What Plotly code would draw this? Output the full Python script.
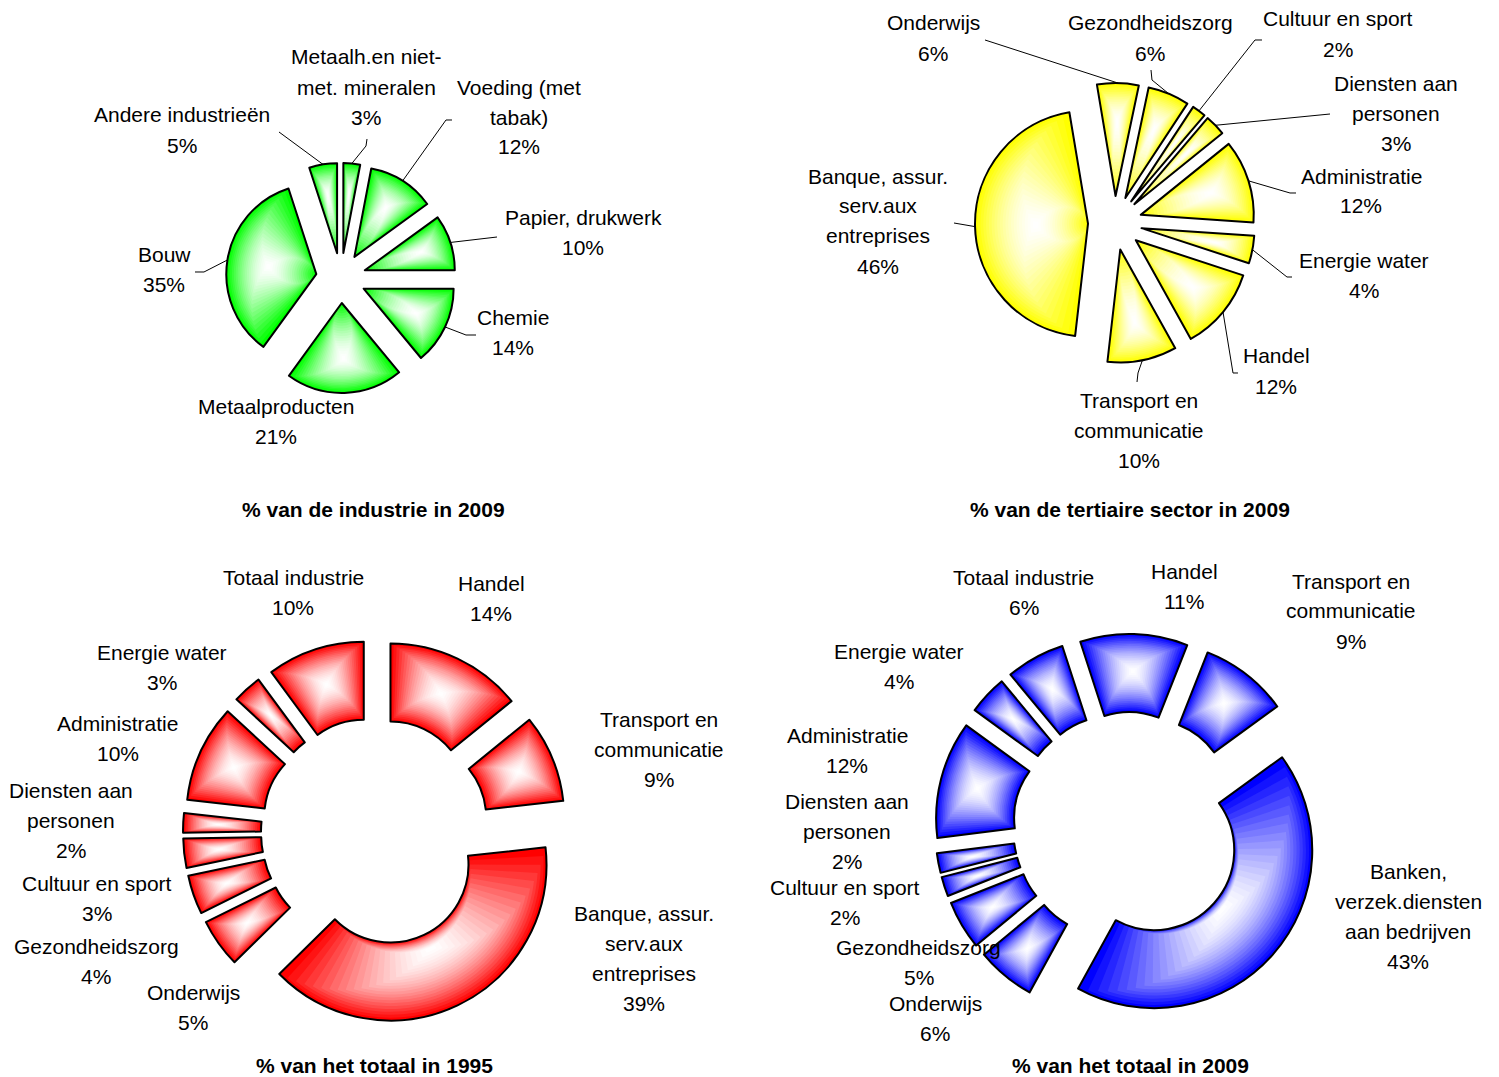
import math
import plotly.graph_objects as go

W, H = 1499, 1077

# ---------------- data ----------------
ind_labels = ["Metaalh.en niet-\nmet. mineralen", "Voeding (met\ntabak)", "Papier, drukwerk",
              "Chemie", "Metaalproducten", "Bouw", "Andere industrieën"]
ind_values = [3, 12, 10, 14, 21, 35, 5]

ter_labels = ["Onderwijs", "Gezondheidszorg", "Cultuur en sport", "Diensten aan\npersonen",
              "Administratie", "Energie water", "Handel", "Transport en\ncommunicatie",
              "Banque, assur.\nserv.aux\nentreprises"]
ter_values = [6, 6, 2, 3, 12, 4, 12, 10, 46]

tot95_labels = ["Handel", "Transport en\ncommunicatie", "Banque, assur.\nserv.aux\nentreprises",
                "Onderwijs", "Gezondheidszorg", "Cultuur en sport", "Diensten aan\npersonen",
                "Administratie", "Energie water", "Totaal industrie"]
tot95_values = [14, 9, 39, 5, 4, 3, 2, 10, 3, 10]

tot09_labels = ["Handel", "Transport en\ncommunicatie", "Banken,\nverzek.diensten\naan bedrijven",
                "Onderwijs", "Gezondheidszorg", "Cultuur en sport", "Diensten aan\npersonen",
                "Administratie", "Energie water", "Totaal industrie"]
tot09_values = [11, 9, 43, 6, 5, 2, 2, 12, 4, 6]

titles = ["% van de industrie in 2009", "% van de tertiaire sector in 2009",
          "% van het totaal in 1995", "% van het totaal in 2009"]

# ---------------- styling / layout (pixels) ----------------
FONT = "Liberation Sans, Arial, sans-serif"
LINE_GAP = 30
N_LAYERS = 22
SHADE_GAMMA = 1.7

charts = [
    dict(labels=ind_labels, values=ind_values, title=titles[0], title_xy=(373, 509),
         center=(341, 278), radius=90, pull_px=25, hole=0.0, rotation=0, edge=(0, 255, 0),
         label_xy=[(366, 57), (519, 87), (583, 217), (513, 317), (276, 406), (164, 254), (182, 115)],
         leaders=[[(367, 139), (366, 146)], [(452, 120), (446, 120)], [(497, 237)],
                  [(476, 335), (466, 335)], None, [(195, 272), (204, 272)], [(279, 132)]]),
    dict(labels=ter_labels, values=ter_values, title=titles[1], title_xy=(1130, 509),
         center=(1115, 223), radius=113, pull_px=27, hole=0.0, rotation=-9.5, edge=(255, 255, 0),
         label_xy=[(933, 23), (1150, 23), (1338, 19), (1396, 83), (1361, 176), (1364, 260),
                   (1276, 356), (1139, 400), (878, 176)],
         leaders=[[(985, 40)], [(1151, 70), (1152, 80)], [(1262, 40), (1255, 40)], [(1330, 114)],
                  [(1296, 193), (1290, 193)], [(1292, 277), (1287, 277)],
                  [(1238, 373), (1233, 373)], [(1137, 382), (1138, 373)], [(954, 223)]]),
    dict(labels=tot95_labels, values=tot95_values, title=titles[2], title_xy=(374, 1065),
         center=(375, 832), radius=156, pull_px=36, hole=0.5, rotation=0, edge=(255, 0, 0),
         label_xy=[(491, 583), (659, 719), (644, 913), (193, 992), (96, 946), (97, 883),
                   (71, 790), (118, 723), (162, 652), (293, 577)],
         leaders=[None] * 10),
    dict(labels=tot09_labels, values=tot09_values, title=titles[3], title_xy=(1130, 1065),
         center=(1128, 827), radius=158, pull_px=35, hole=0.506, rotation=-18, edge=(0, 0, 255),
         label_xy=[(1184, 571), (1351, 581), (1408, 871), (935, 1003), (919, 947), (845, 887),
                   (847, 801), (847, 735), (899, 651), (1024, 577)],
         leaders=[None] * 10),
]


def px(x, y):
    """pixel position -> paper coordinates"""
    return x / W, 1 - y / H


def domain_for(cx, cy, r, pull):
    box = 2 * r * (1 + pull)
    x0, y1 = px(cx - box / 2, cy - box / 2)
    x1, y0 = px(cx + box / 2, cy + box / 2)
    return dict(x=[x0, x1], y=[y0, y1])


def shade(edge, f):
    return "rgb({},{},{})".format(*[round(255 + (c - 255) * f) for c in edge])


fig = go.Figure()
annotations = []
shapes = []

for ch in charts:
    vals = ch["values"]
    total = float(sum(vals))
    cx, cy = ch["center"]
    R = ch["radius"]
    d = ch["pull_px"]
    r1 = ch["hole"] * R
    rot = ch["rotation"]

    cum = 0.0
    for i, v in enumerate(vals):
        span = 360.0 * v / total
        start = rot + 360.0 * cum / total
        cum += v
        mid = start + span / 2
        half = math.radians(span / 2)
        # centroid distance of the (annular) sector from its arc centre
        rc = (2.0 / 3.0) * (R ** 3 - r1 ** 3) / (R ** 2 - r1 ** 2) * math.sin(half) / half

        # shaded layers: successively smaller copies around the centroid
        for k in range(N_LAYERS):
            s = 1 - k / N_LAYERS
            inner = rc - s * (rc - r1)
            outer = rc + s * (R - rc)
            sp = span * s
            pl = d / outer
            fig.add_trace(go.Pie(
                values=[sp, 360 - sp], sort=False, direction="clockwise",
                rotation=start + (span - sp) / 2,
                hole=inner / outer, pull=[pl, 0],
                marker=dict(colors=[shade(ch["edge"], s ** SHADE_GAMMA), "rgba(0,0,0,0)"],
                            line=dict(width=0)),
                domain=domain_for(cx, cy, outer, pl),
                textinfo="none", hoverinfo="skip", showlegend=False))

        # labels (one annotation per line)
        lx, ly = ch["label_xy"][i]
        lines = ch["labels"][i].split("\n") + [f"{v}%"]
        for j, line in enumerate(lines):
            x, y = px(lx, ly + j * LINE_GAP)
            annotations.append(dict(x=x, y=y, xref="paper", yref="paper", text=line,
                                    showarrow=False, xanchor="center", yanchor="middle",
                                    font=dict(family=FONT, size=21, color="black")))

        # leader line to the outer rim of the slice
        lead = ch["leaders"][i]
        if lead:
            a = math.radians(mid)
            tip = (cx + (R + d) * math.sin(a), cy - (R + d) * math.cos(a))
            pts = [px(*p) for p in lead + [tip]]
            path = "M " + " L ".join(f"{p[0]:.5f},{p[1]:.5f}" for p in pts)
            shapes.append(dict(type="path", path=path, xref="paper", yref="paper",
                               line=dict(color="black", width=1)))

    # black outlines on top
    fig.add_trace(go.Pie(
        values=vals, sort=False, direction="clockwise", rotation=rot,
        hole=ch["hole"], pull=[d / R] * len(vals),
        marker=dict(colors=["rgba(0,0,0,0)"] * len(vals), line=dict(color="black", width=2)),
        domain=domain_for(cx, cy, R, d / R),
        textinfo="none", hoverinfo="skip", showlegend=False))

    tx, ty = px(*ch["title_xy"])
    annotations.append(dict(x=tx, y=ty, xref="paper", yref="paper", text=f"<b>{ch['title']}</b>",
                            showarrow=False, xanchor="center", yanchor="middle",
                            font=dict(family=FONT, size=21, color="black")))

fig.update_layout(width=W, height=H, margin=dict(l=0, r=0, t=0, b=0),
                  paper_bgcolor="white", plot_bgcolor="white",
                  annotations=annotations, shapes=shapes, showlegend=False)

fig.write_html("out.html")
